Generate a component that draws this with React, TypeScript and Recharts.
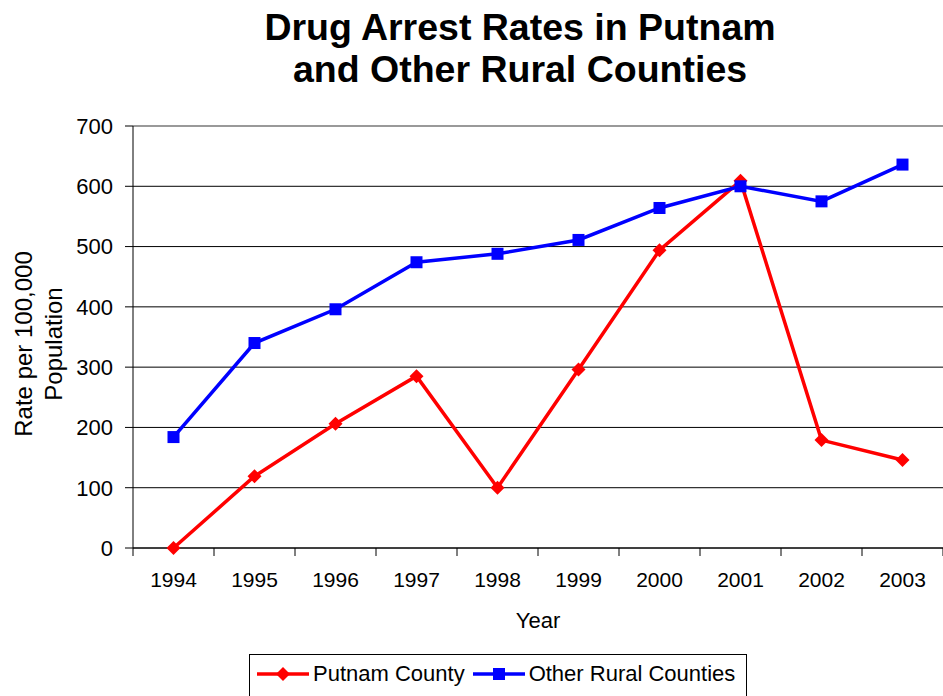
import React from "react";
import { LineChart, Line, XAxis, YAxis, CartesianGrid, ReferenceLine } from "recharts";

const years = ["1994", "1995", "1996", "1997", "1998", "1999", "2000", "2001", "2002", "2003"];
const putnam = [0, 119, 206, 285, 100, 296, 494, 609, 179, 146];
const otherRural = [184, 340, 396, 474, 488, 511, 564, 600, 575, 636];
const yTicks = [0, 100, 200, 300, 400, 500, 600, 700];

const data = years.map((y, i) => ({ pos: i + 0.5, year: y, putnam: putnam[i], other: otherRural[i] }));
const boundaryTicks = years.map((_, i) => i).concat([years.length]);
const centerTicks = years.map((_, i) => i + 0.5);

const FONT = "'Liberation Sans', Arial, Helvetica, sans-serif";

const Diamond = (props: any) => {
  const { cx, cy } = props;
  if (cx == null || cy == null) return null;
  const r = 7;
  return <path d={`M${cx},${cy - r}L${cx + r},${cy}L${cx},${cy + r}L${cx - r},${cy}Z`} fill="#FF0000" stroke="none" />;
};

const Square = (props: any) => {
  const { cx, cy } = props;
  if (cx == null || cy == null) return null;
  const s = 6;
  return <rect x={cx - s} y={cy - s} width={2 * s} height={2 * s} fill="#0000FF" stroke="none" />;
};

const YLabel = () => {
  const cy = 344;
  return (
    <g>
      <text x={32} y={cy} transform={`rotate(-90, 32, ${cy})`} textAnchor="middle" fontSize={24} fontFamily={FONT} fill="#000">
        Rate per 100,000
      </text>
      <text x={62} y={cy} transform={`rotate(-90, 62, ${cy})`} textAnchor="middle" fontSize={24} fontFamily={FONT} fill="#000">
        Population
      </text>
    </g>
  );
};

export default function App() {
  return (
    <div style={{ position: "fixed", left: 0, top: 0, width: 943, height: 696, overflow: "hidden", background: "#fff", fontFamily: FONT }}>
      <div style={{ position: "absolute", left: 0, top: 6, width: 1040, textAlign: "center", fontWeight: "bold", fontSize: 37.5, lineHeight: "42px", color: "#000" }}>
        Drug Arrest Rates in Putnam
        <br />
        and Other Rural Counties
      </div>
      <div style={{ position: "absolute", left: 0, top: 0 }}>
        <LineChart width={943} height={696} data={data} margin={{ top: 126, right: 0, bottom: 47, left: 0 }}>
          <CartesianGrid vertical={false} stroke="#000" strokeWidth={1} />
          <ReferenceLine y={700} stroke="#999" strokeWidth={2} />
          <XAxis
            xAxisId="grid"
            type="number"
            dataKey="pos"
            domain={[0, 10]}
            ticks={boundaryTicks}
            allowDataOverflow
            height={1}
            axisLine={{ stroke: "#000", strokeWidth: 1 }}
            tickLine={{ stroke: "#000" }}
            tickSize={8}
            tick={() => <g />}
          />
          <XAxis
            xAxisId="year"
            type="number"
            dataKey="pos"
            domain={[0, 10]}
            ticks={centerTicks}
            allowDataOverflow
            height={100}
            axisLine={false}
            tickLine={false}
            tickFormatter={(v: number) => years[Math.floor(v)]}
            tick={{ fontSize: 21, fill: "#000", fontFamily: FONT, dy: 15 }}
            label={{ value: "Year", position: "insideTop", offset: 63, fontSize: 22, fill: "#000", fontFamily: FONT }}
          />
          <YAxis
            domain={[0, 700]}
            ticks={yTicks}
            width={133}
            axisLine={{ stroke: "#000", strokeWidth: 1 }}
            tickLine={{ stroke: "#000" }}
            tickSize={8}
            tick={{ fontSize: 22, fill: "#000", fontFamily: FONT, dx: -10 }}
            label={<YLabel />}
          />
          <Line xAxisId="grid" type="linear" dataKey="putnam" stroke="#FF0000" strokeWidth={3.5} dot={<Diamond />} activeDot={false} isAnimationActive={false} />
          <Line xAxisId="grid" type="linear" dataKey="other" stroke="#0000FF" strokeWidth={3.5} dot={<Square />} activeDot={false} isAnimationActive={false} />
        </LineChart>
      </div>
      <div style={{ position: "absolute", left: 249, top: 654, width: 496, height: 80, border: "1px solid #000", background: "#fff" }}>
        <div style={{ position: "absolute", left: 7, top: 7, display: "flex", alignItems: "center", fontSize: 22, color: "#000", whiteSpace: "nowrap", height: 24 }}>
          <svg width={52} height={16} style={{ display: "block" }}>
            <line x1={0} y1={8} x2={52} y2={8} stroke="#FF0000" strokeWidth={3.5} />
            <path d="M26,1L33,8L26,15L19,8Z" fill="#FF0000" />
          </svg>
          <span style={{ marginLeft: 4 }}>Putnam County</span>
          <svg width={52} height={16} style={{ display: "block", marginLeft: 8 }}>
            <line x1={0} y1={8} x2={52} y2={8} stroke="#0000FF" strokeWidth={3.5} />
            <rect x={20} y={2} width={12} height={12} fill="#0000FF" />
          </svg>
          <span style={{ marginLeft: 4 }}>Other Rural Counties</span>
        </div>
      </div>
    </div>
  );
}
